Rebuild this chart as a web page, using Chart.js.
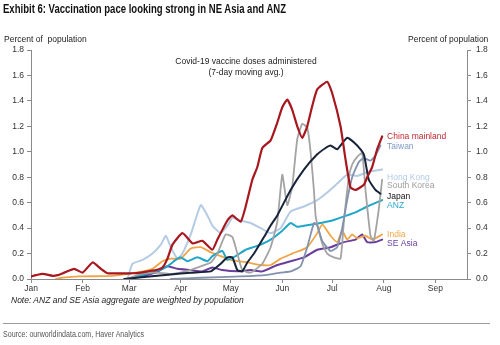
<!DOCTYPE html>
<html>
<head>
<meta charset="utf-8">
<script src="https://cdn.jsdelivr.net/npm/chart.js@4.4.1/dist/chart.umd.min.js"></script>
<style>
  html, body { margin:0; padding:0; background:#fff; width:500px; height:345px; overflow:hidden; }
  #wrap { position:relative; width:500px; height:345px; }
  canvas { position:absolute; left:0; top:0; }
  .t { position:absolute; white-space:nowrap; font-family:"Liberation Sans", Arial, sans-serif; color:#222; line-height:1; }
</style>
</head>
<body>
<div id="wrap">
  <canvas id="c" width="500" height="345"></canvas>
  <div class="t" id="title" style="left:3px; top:3px; font-family:'Liberation Sans Narrow','Liberation Sans',Arial,sans-serif; font-weight:bold; font-size:12px; color:#111; transform-origin:0 0;">Exhibit 6: Vaccination pace looking strong in NE Asia and ANZ</div>
  <div class="t" style="left:4px; top:35px; font-size:8.5px;">Percent of&nbsp; population</div>
  <div class="t" style="left:408px; top:35px; font-size:8.5px;">Percent of population</div>
  <div class="t" style="left:246px; top:56px; font-size:8.5px; transform:translateX(-50%); text-align:center; line-height:10.5px;">Covid-19 vaccine doses administered<br>(7-day moving avg.)</div>
  <div class="t" style="left:11px; top:296px; font-size:8.5px; font-style:italic;">Note: ANZ and SE Asia aggregate are weighted by population</div>
  <div style="position:absolute; left:3px; top:323px; width:487px; height:1px; background:#9a9a9a;"></div>
  <div class="t" id="source" style="left:3px; top:330px; font-family:'Liberation Sans Narrow','Liberation Sans',Arial,sans-serif; font-size:8.5px; color:#555; transform-origin:0 0;">Source: ourworldindata.com, Haver Analytics</div>
</div>
<script>
// ---- Data (x = day of year 2021, 0 = Jan 1; y = doses per 100 people, 7-day avg) ----
const monthStarts = [0, 31, 59, 90, 120, 151, 181, 212, 243];
const monthNames  = ['Jan','Feb','Mar','Apr','May','Jun','Jul','Aug','Sep'];
const yTicks = [0, 0.2, 0.4, 0.6, 0.8, 1.0, 1.2, 1.4, 1.6, 1.8];

const chinaDays = [0,3,7,13,16,20,26,31,37,42,46,55,61,66,70,75,79,82,85,91,97,100,103,109,112,118,121,126,129,133,136,139,144,148,151,154,157,160,163,166,169,172,178,181,186,189,192,195,200,202,205,208,211];
const chinaVals = [0.02,0.03,0.04,0.025,0.03,0.05,0.08,0.05,0.13,0.08,0.045,0.045,0.045,0.05,0.06,0.07,0.09,0.16,0.27,0.36,0.28,0.29,0.30,0.23,0.31,0.46,0.50,0.45,0.57,0.78,0.88,1.03,1.09,1.23,1.35,1.41,1.33,1.20,1.11,1.20,1.36,1.49,1.55,1.46,1.20,0.94,0.72,0.70,0.74,0.80,0.88,1.02,1.12];

const taiwanDays = [84,102,126,141,150,156,162,166,170,172,175,180,184,187,190,193,197,200,204,207,210];
const taiwanVals = [0,0.01,0.02,0.03,0.05,0.06,0.10,0.25,0.44,0.42,0.30,0.22,0.25,0.40,0.62,0.80,0.92,0.95,0.93,0.97,1.05];

const hongKongDays = [58,61,67,73,78,81,84,88,91,96,102,106,109,114,118,121,126,132,138,144,150,156,164,172,178,184,190,196,202,211];
const hongKongVals = [0,0.12,0.15,0.20,0.27,0.34,0.25,0.16,0.20,0.35,0.58,0.50,0.42,0.36,0.42,0.48,0.46,0.44,0.40,0.36,0.40,0.53,0.57,0.62,0.68,0.75,0.82,0.81,0.84,0.86];

const koreaDays = [58,66,75,84,93,102,108,112,117,121,124,127,132,139,144,148,151,154,157,160,163,166,168,170,171,172,175,178,182,186,188,191,193,196,199,201,204,206,209,211];
const koreaVals = [0,0.04,0.05,0.04,0.06,0.10,0.13,0.20,0.35,0.33,0.20,0.07,0.05,0.12,0.25,0.45,0.82,0.58,0.73,1.10,1.22,1.19,1.00,0.70,0.50,0.43,0.28,0.20,0.17,0.16,0.45,0.80,0.90,0.96,0.99,0.70,0.34,0.30,0.55,0.78];

const japanDays = [56,71,84,96,108,114,118,121,124,127,130,134,140,144,148,156,164,172,177,180,184,190,196,200,203,207,210];
const japanVals = [0,0.02,0.035,0.05,0.06,0.12,0.17,0.17,0.07,0.06,0.13,0.20,0.33,0.42,0.50,0.70,0.86,0.98,1.03,1.05,1.02,1.11,1.05,0.98,0.78,0.70,0.67];

const anzDays = [58,66,75,82,87,90,94,100,106,109,115,118,123,129,136,144,151,156,160,165,174,181,190,196,202,211];
const anzVals = [0,0.03,0.06,0.10,0.15,0.17,0.14,0.17,0.14,0.18,0.22,0.15,0.18,0.23,0.26,0.31,0.38,0.44,0.41,0.42,0.44,0.46,0.50,0.53,0.57,0.62];

const indiaDays = [15,19,29,49,63,73,79,84,90,96,102,108,114,120,130,138,144,150,157,166,172,175,180,184,187,190,193,196,201,205,211];
const indiaVals = [0,0.01,0.02,0.025,0.05,0.08,0.14,0.16,0.16,0.24,0.25,0.21,0.18,0.15,0.13,0.11,0.11,0.16,0.20,0.25,0.36,0.43,0.34,0.29,0.38,0.31,0.35,0.32,0.34,0.31,0.35];

const seAsiaDays = [59,69,75,82,88,96,103,109,115,124,132,139,148,156,164,172,180,188,195,199,202,207,211];
const seAsiaVals = [0,0.03,0.05,0.10,0.08,0.07,0.06,0.09,0.07,0.06,0.07,0.06,0.11,0.14,0.17,0.23,0.25,0.29,0.31,0.35,0.29,0.29,0.31];

// End labels: [text, y-value where the label sits]
const labelNames = ['China mainland','Taiwan','Hong Kong','South Korea','Japan','ANZ','India','SE Asia'];
const labelLevels = [1.12, 1.04, 0.80, 0.73, 0.65, 0.58, 0.35, 0.28];
const labelDay = 214;

// ---- Styles ----
const series = [
  { name:'China mainland', days:chinaDays,    vals:chinaVals,    color:'#A8171E', text:'#BF2A2E', width:2.2 },
  { name:'Japan',          days:japanDays,    vals:japanVals,    color:'#17233A', text:'#111111', width:2 },
  { name:'Taiwan',         days:taiwanDays,   vals:taiwanVals,   color:'#8191AE', text:'#7F9CC6', width:1.8 },
  { name:'South Korea',    days:koreaDays,    vals:koreaVals,    color:'#A3A3A3', text:'#9C9C9C', width:1.8 },
  { name:'ANZ',            days:anzDays,      vals:anzVals,      color:'#20A6C8', text:'#2AA9CF', width:2 },
  { name:'India',          days:indiaDays,    vals:indiaVals,    color:'#EFA547', text:'#F0A846', width:1.8 },
  { name:'SE Asia',        days:seAsiaDays,   vals:seAsiaVals,   color:'#6A3D9C', text:'#6A3D9C', width:2 },
  { name:'Hong Kong',      days:hongKongDays, vals:hongKongVals, color:'#B5CBE4', text:'#B3CAE5', width:2 },
];

const FONT = { family: "'Liberation Sans', Arial, sans-serif", size: 8.5 };
const AXIS = '#8a8a8a';

const endLabels = {
  id: 'endLabels',
  afterDatasetsDraw(chart) {
    const c = chart.ctx, xs = chart.scales.x, ys = chart.scales.y;
    c.save();
    c.font = "8.5px 'Liberation Sans', Arial, sans-serif";
    c.textBaseline = 'middle';
    c.textAlign = 'left';
    labelNames.forEach((n, i) => {
      const s = series.find(q => q.name === n);
      c.fillStyle = s.text;
      c.fillText(n, xs.getPixelForValue(labelDay), ys.getPixelForValue(labelLevels[i]));
    });
    c.restore();
  }
};

new Chart(document.getElementById('c'), {
  type: 'line',
  data: {
    datasets: series.map(s => ({
      label: s.name,
      data: s.days.map((d, i) => ({ x: d, y: s.vals[i] })),
      borderColor: s.color,
      borderWidth: s.width,
      pointRadius: 0,
      tension: 0.15,
      fill: false,
      borderJoinStyle: 'round',
      borderCapStyle: 'round'
    }))
  },
  options: {
    responsive: false,
    animation: false,
    events: [],
    layout: { padding: { top: 50, left: 0, right: 0, bottom: 0 } },
    plugins: { legend: { display: false }, tooltip: { enabled: false } },
    scales: {
      x: {
        type: 'linear', min: 0, max: 262,
        afterBuildTicks: s => { s.ticks = monthStarts.map(v => ({ value: v })); },
        afterFit: s => { s.height = 66; },
        ticks: { autoSkip: false, maxRotation: 0, padding: 1, font: FONT, color: '#333',
                 callback: v => monthNames[monthStarts.indexOf(v)] },
        grid: { drawOnChartArea: false, drawTicks: true, tickLength: 4, color: AXIS },
        border: { color: AXIS, width: 1 }
      },
      y: {
        position: 'left', min: 0, max: 1.8,
        afterBuildTicks: s => { s.ticks = yTicks.map(v => ({ value: v })); },
        afterFit: s => { s.width = 31; },
        ticks: { padding: 3, font: FONT, color: '#333', callback: v => v.toFixed(1) },
        grid: { drawOnChartArea: false, drawTicks: true, tickLength: 4, color: AXIS },
        border: { color: AXIS, width: 1 }
      },
      y2: {
        position: 'right', min: 0, max: 1.8,
        afterBuildTicks: s => { s.ticks = yTicks.map(v => ({ value: v })); },
        afterFit: s => { s.width = 33; },
        ticks: { padding: 5, font: FONT, color: '#333', callback: v => v.toFixed(1) },
        grid: { drawOnChartArea: false, drawTicks: true, tickLength: 4, color: AXIS },
        border: { color: AXIS, width: 1 }
      }
    }
  },
  plugins: [endLabels]
});

// fit narrow header/footer text to the reference widths
function fitWidth(id, w) {
  const el = document.getElementById(id);
  const cur = el.getBoundingClientRect().width;
  if (cur > 0) el.style.transform = 'scaleX(' + (w / cur) + ')';
}
fitWidth('title', 283);
fitWidth('source', 141);
</script>
</body>
</html>
